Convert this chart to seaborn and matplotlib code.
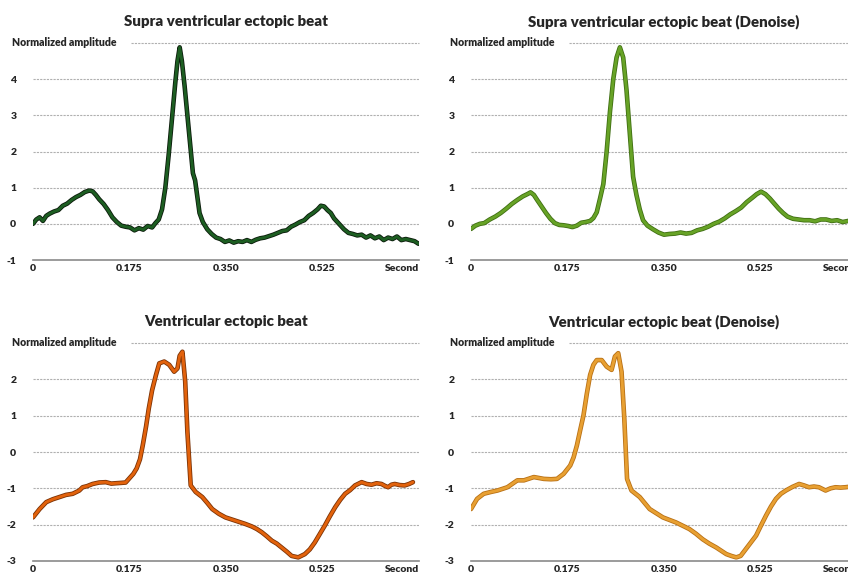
import matplotlib
matplotlib.use("Agg")
import matplotlib.pyplot as plt
import matplotlib.patheffects as pe
import seaborn as sns
import pandas as pd

sns.set_style("white")
plt.rcParams['font.family'] = ['Lato', 'DejaVu Sans']

# ---------------- data ----------------
titles = ["Supra ventricular ectopic beat", "Supra ventricular ectopic beat (Denoise)",
          "Ventricular ectopic beat", "Ventricular ectopic beat (Denoise)"]
x_ticks = [0, 0.175, 0.35, 0.525, 0.7]
x_tick_labels = ["0", "0.175", "0.350", "0.525", "Second"]
y_label = "Normalized amplitude"
top_yticks = [-1, 0, 1, 2, 3, 4, 5]
bottom_yticks = [-3, -2, -1, 0, 1, 2, 3]

x_svt = [0.000,0.006,0.012,0.018,0.024,0.030,0.038,0.046,0.054,0.062,0.070,0.078,0.086,0.094,0.102,0.108,
         0.114,0.120,0.128,0.136,0.144,0.152,0.160,0.168,0.176,0.184,0.192,0.200,0.208,0.216,0.222,0.228,
         0.234,0.240,0.246,0.252,0.258,0.262,0.266,0.270,0.275,0.280,0.285,0.290,0.294,0.298,0.302,0.308,
         0.316,0.324,0.332,0.340,0.348,0.356,0.364,0.372,0.380,0.388,0.396,0.404,0.412,0.420,0.428,0.436,
         0.444,0.452,0.460,0.468,0.476,0.484,0.492,0.500,0.508,0.516,0.522,0.528,0.534,0.540,0.546,0.552,
         0.558,0.564,0.572,0.580,0.588,0.596,0.604,0.612,0.620,0.628,0.636,0.644,0.652,0.660,0.668,0.676,
         0.684,0.692,0.699]
y_svt = [0.00,0.12,0.18,0.08,0.22,0.28,0.34,0.38,0.50,0.56,0.66,0.74,0.80,0.88,0.92,0.90,
         0.80,0.68,0.55,0.38,0.18,0.05,-0.05,-0.08,-0.10,-0.18,-0.12,-0.16,-0.06,-0.10,0.02,0.12,
         0.40,1.00,1.90,2.90,3.90,4.50,4.88,4.50,3.80,3.00,2.20,1.40,1.20,0.75,0.30,0.05,
         -0.15,-0.28,-0.38,-0.42,-0.50,-0.46,-0.52,-0.48,-0.50,-0.45,-0.50,-0.44,-0.40,-0.38,-0.34,-0.30,
         -0.25,-0.20,-0.18,-0.08,-0.02,0.05,0.10,0.22,0.30,0.40,0.50,0.48,0.38,0.30,0.15,0.05,
         -0.05,-0.15,-0.25,-0.28,-0.32,-0.30,-0.38,-0.32,-0.40,-0.35,-0.45,-0.38,-0.42,-0.35,-0.45,-0.42,
         -0.45,-0.48,-0.55]

x_svt_dn = [0.000,0.008,0.016,0.024,0.034,0.044,0.054,0.064,0.074,0.084,0.094,0.102,0.108,0.114,0.120,0.128,
            0.136,0.144,0.152,0.160,0.168,0.176,0.184,0.192,0.200,0.208,0.216,0.222,0.228,0.234,0.240,0.246,
            0.252,0.258,0.264,0.270,0.276,0.282,0.288,0.294,0.300,0.306,0.312,0.320,0.330,0.340,0.350,0.360,
            0.370,0.380,0.390,0.400,0.410,0.420,0.430,0.440,0.450,0.460,0.470,0.480,0.490,0.500,0.510,0.518,
            0.526,0.534,0.542,0.550,0.558,0.566,0.574,0.584,0.594,0.604,0.614,0.624,0.634,0.644,0.654,0.664,
            0.674,0.684,0.692,0.700]
y_svt_dn = [-0.14,-0.05,0.00,0.02,0.12,0.20,0.30,0.42,0.55,0.66,0.76,0.82,0.87,0.80,0.66,0.48,
            0.30,0.14,0.02,-0.03,-0.04,-0.06,-0.09,-0.05,0.03,0.05,0.08,0.16,0.32,0.70,1.10,2.00,
            3.10,4.00,4.60,4.88,4.60,3.70,2.50,1.30,0.80,0.40,0.10,-0.05,-0.15,-0.24,-0.30,-0.28,
            -0.27,-0.24,-0.27,-0.25,-0.18,-0.14,-0.08,0.00,0.06,0.15,0.26,0.35,0.45,0.60,0.72,0.82,
            0.89,0.82,0.70,0.56,0.42,0.30,0.20,0.14,0.12,0.10,0.10,0.07,0.12,0.12,0.08,0.10,
            0.05,0.08,0.10,0.10]

x_veb = [0.000,0.012,0.024,0.036,0.048,0.060,0.072,0.084,0.090,0.098,0.108,0.120,0.132,0.142,0.150,0.160,
         0.168,0.175,0.182,0.188,0.194,0.199,0.205,0.210,0.216,0.223,0.229,0.238,0.247,0.256,0.262,0.266,
         0.271,0.276,0.280,0.286,0.295,0.307,0.316,0.325,0.337,0.349,0.361,0.373,0.385,0.397,0.406,0.415,
         0.424,0.433,0.442,0.451,0.460,0.469,0.481,0.493,0.502,0.511,0.520,0.529,0.538,0.548,0.557,0.566,
         0.575,0.584,0.596,0.605,0.614,0.623,0.632,0.638,0.644,0.650,0.656,0.665,0.674,0.682,0.689]
y_veb = [-1.80,-1.57,-1.38,-1.30,-1.24,-1.18,-1.15,-1.06,-0.97,-0.94,-0.88,-0.84,-0.83,-0.87,-0.86,-0.85,
         -0.84,-0.72,-0.60,-0.45,-0.20,0.18,0.70,1.20,1.70,2.12,2.44,2.49,2.40,2.21,2.30,2.65,
         2.76,1.94,0.55,-0.92,-1.10,-1.24,-1.40,-1.57,-1.70,-1.80,-1.86,-1.92,-1.98,-2.05,-2.12,-2.21,
         -2.32,-2.44,-2.52,-2.63,-2.74,-2.86,-2.90,-2.81,-2.68,-2.49,-2.26,-2.03,-1.78,-1.52,-1.32,-1.15,
         -1.05,-0.92,-0.83,-0.88,-0.90,-0.86,-0.88,-0.93,-0.97,-0.90,-0.88,-0.91,-0.92,-0.88,-0.83]

x_veb_dn = [0.000,0.011,0.023,0.036,0.048,0.066,0.084,0.096,0.114,0.132,0.145,0.156,0.168,0.180,0.186,0.192,
            0.198,0.204,0.210,0.216,0.222,0.228,0.237,0.246,0.255,0.261,0.267,0.273,0.278,0.283,0.291,0.306,
            0.324,0.348,0.372,0.396,0.408,0.420,0.432,0.445,0.454,0.463,0.472,0.481,0.489,0.496,0.506,0.517,
            0.526,0.535,0.544,0.553,0.562,0.571,0.583,0.595,0.604,0.613,0.622,0.631,0.643,0.652,0.661,0.670,
            0.679,0.690,0.700]
y_veb_dn = [-1.57,-1.29,-1.15,-1.10,-1.06,-0.97,-0.78,-0.78,-0.69,-0.74,-0.75,-0.74,-0.60,-0.37,-0.15,0.18,
            0.60,1.01,1.60,2.12,2.40,2.53,2.53,2.35,2.26,2.63,2.72,2.21,0.92,-0.74,-1.06,-1.24,
            -1.57,-1.80,-1.94,-2.12,-2.25,-2.40,-2.52,-2.63,-2.72,-2.81,-2.86,-2.90,-2.86,-2.72,-2.52,-2.30,
            -2.02,-1.75,-1.50,-1.29,-1.15,-1.06,-0.96,-0.88,-0.92,-0.97,-0.95,-0.97,-1.06,-1.00,-0.97,-0.98,
            -0.97,-0.95,-0.95]

series = [(x_svt, y_svt), (x_svt_dn, y_svt_dn), (x_veb, y_veb), (x_veb_dn, y_veb_dn)]
core_colors = ["#1d5e22", "#67a326", "#e2620c", "#e8a032"]
edge_colors = ["#0b1a0b", "#3f6e12", "#7a3206", "#b87015"]

# ---------------- figure ----------------
W, H = 848, 575
fig = plt.figure(figsize=(W / 100, H / 100), dpi=100)
ax_w = 386 / W
rects = [
    (33 / W, (H - 260) / H, ax_w, 217 / H),
    (471 / W, (H - 260) / H, ax_w, 217 / H),
    (33 / W, (H - 561) / H, ax_w, 218 / H),
    (471 / W, (H - 561) / H, ax_w, 218 / H),
]

for i, (rect, (xs, ys)) in enumerate(zip(rects, series)):
    ax = fig.add_axes(rect)
    yt = top_yticks if i < 2 else bottom_yticks
    df = pd.DataFrame({"t": xs, "amp": ys})
    sns.lineplot(data=df, x="t", y="amp", ax=ax, color=core_colors[i], linewidth=2.1,
                 path_effects=[pe.Stroke(linewidth=3.3, foreground=edge_colors[i]), pe.Normal()],
                 zorder=5)
    ax.set_xlim(0, 0.7)
    ax.set_ylim(yt[0], yt[-1])
    ax.set_xlabel("")
    ax.set_ylabel("")
    ax.set_yticks(yt)
    ax.set_yticklabels([str(v) for v in yt[:-1]] + [""])
    ax.set_xticks(x_ticks)
    ax.set_xticklabels(x_tick_labels)
    for lab in ax.get_xticklabels():
        lab.set_fontweight("heavy")
        lab.set_fontsize(7.5)
    ax.get_xticklabels()[-1].set_ha("right")
    for lab in ax.get_yticklabels():
        lab.set_fontweight("heavy")
        lab.set_fontsize(7.5)
    ax.tick_params(axis="y", length=0, pad=12)
    ax.tick_params(axis="x", length=2.5, width=1, color="#888888", direction="inout", pad=1.5)
    for s in ["top", "right", "left"]:
        ax.spines[s].set_visible(False)
    ax.spines["bottom"].set_color("#8a8a8a")
    ax.spines["bottom"].set_linewidth(1.2)
    # grid
    for v in yt[1:-1]:
        ax.axhline(v, color="#b0b0b0", lw=0.8, ls=(0, (2, 1)), zorder=1)
    ax.axhline(yt[-1], xmin=0.255, xmax=1, color="#b0b0b0", lw=0.8, ls=(0, (2, 1)),
               zorder=1, clip_on=False)
    ax.text(-0.055, yt[-1], y_label, transform=ax.get_yaxis_transform(),
            ha="left", va="center", fontsize=7.6, fontweight="heavy")
    ax.set_title(titles[i], fontsize=10.8, fontweight="heavy", pad=12)

fig.savefig("out.png", dpi=100)
